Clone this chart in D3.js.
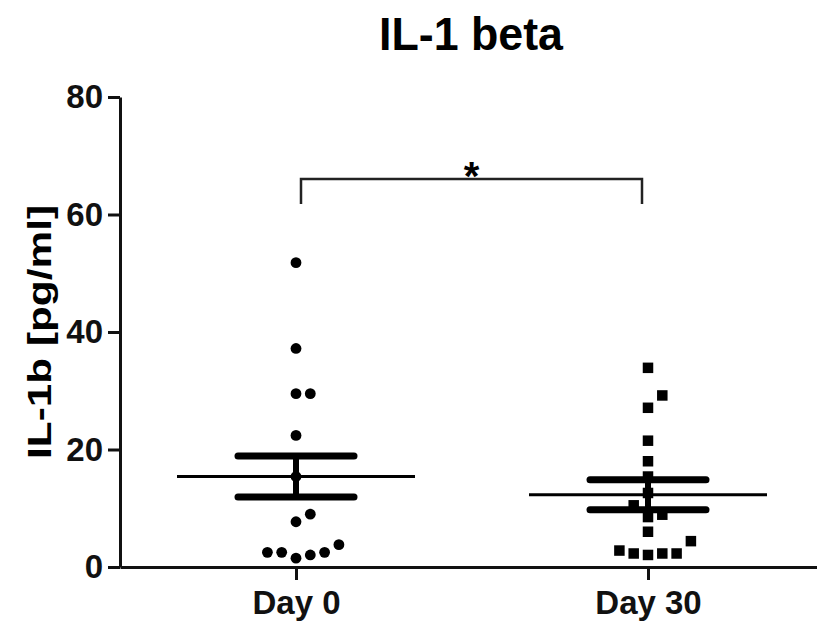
<!DOCTYPE html>
<html>
<head>
<meta charset="utf-8">
<script src="https://cdn.jsdelivr.net/npm/d3@7"></script>
<style>
  body { margin: 0; background: #fff; }
  text { font-family: "Liberation Sans", Arial, sans-serif; font-weight: bold; }
</style>
</head>
<body>
<svg class="chart"></svg>
<script>
// IL-1 beta scatter, day 0 vs day 30

let groups = ["Day 0", "Day 30"];
let day0 = [51.8, 37.2, 29.5, 29.5, 22.4, 15.4, 9.0, 7.7, 3.8, 2.5, 2.5, 2.5, 2.05, 1.5];
let day30 = [33.9, 29.2, 27.1, 21.5, 18.0, 15.4, 12.6, 10.5, 8.9, 8.5, 6.0, 4.4, 2.8, 2.3, 2.3, 2.3, 2.05];
let means = [15.4, 12.3];
let sems = [3.5, 2.55];
let yTicks = [0, 20, 40, 60, 80];

let w = 817;
let h = 622;

let svg = d3.select("svg.chart")
    .attr("width", w)
    .attr("height", h);

let left = 120;
let bottom = 567;
let top_y = 97;

let x = d3.scalePoint()
    .domain(groups)
    .range([left, 824])
    .padding(0.5);

let y = d3.scaleLinear()
    .domain([0, 80])
    .range([bottom, top_y]);

// title
svg.append("text")
    .attr("x", 471)
    .attr("y", 50)
    .attr("text-anchor", "middle")
    .attr("font-size", "47px")
    .attr("textLength", 184)
    .attr("lengthAdjust", "spacingAndGlyphs")
    .text("IL-1 beta");

// y axis
let yAxis = svg.append("g")
    .attr("transform", "translate(" + left + ",0)")
    .call(d3.axisLeft(y).tickValues(yTicks).tickSize(12).tickSizeOuter(0).tickPadding(5));

// x axis
let xAxis = svg.append("g")
    .attr("transform", "translate(0," + bottom + ")")
    .call(d3.axisBottom(x).tickSize(13).tickSizeOuter(0).tickPadding(6));

[yAxis, xAxis].forEach(g => {
    g.select(".domain").attr("stroke", "#111").attr("stroke-width", 3);
    g.selectAll(".tick line").attr("stroke", "#111").attr("stroke-width", 3);
    g.selectAll(".tick text")
        .attr("fill", "#111")
        .attr("font-size", "33px")
        .attr("font-family", "'Liberation Sans', Arial, sans-serif")
        .attr("font-weight", "bold");
});
xAxis.selectAll(".tick text").attr("dy", "0.85em");

// y axis label
svg.append("text")
    .attr("transform", "translate(51," + ((top_y + bottom) / 2) + ") rotate(-90)")
    .attr("text-anchor", "middle")
    .attr("font-size", "34px")
    .attr("textLength", 254)
    .attr("lengthAdjust", "spacingAndGlyphs")
    .text("IL-1b [pg/ml]");

// simple beeswarm: place each point in the nearest free column slot
function swarm(values, cx, step, minDist) {
    let placed = [];
    let sorted = values.slice().sort((a, b) => a - b);
    sorted.forEach(v => {
        let py = y(v);
        for (let k = 0; k < 20; k++) {
            let slot = k == 0 ? 0 : (k % 2 == 1 ? (k + 1) / 2 : -k / 2);
            let px = cx + slot * step;
            let hit = placed.some(p => Math.hypot(p.x - px, p.y - py) < minDist);
            if (!hit) {
                placed.push({x: px, y: py, v: v});
                break;
            }
        }
    });
    return placed;
}

let pts0 = swarm(day0, x("Day 0"), 14.3, 14.2);
let pts30 = swarm(day30, x("Day 30"), 14.3, 14.2);

svg.append("g").selectAll("circle")
    .data(pts0)
    .enter()
    .append("circle")
    .attr("cx", d => d.x)
    .attr("cy", d => d.y)
    .attr("r", 5.4)
    .attr("fill", "#000");

let sq = 10.5;
svg.append("g").selectAll("rect")
    .data(pts30)
    .enter()
    .append("rect")
    .attr("x", d => d.x - sq / 2)
    .attr("y", d => d.y - sq / 2)
    .attr("width", sq)
    .attr("height", sq)
    .attr("fill", "#000");

// mean line and SEM bars
let stats = svg.append("g").attr("stroke", "#000");
groups.forEach((g, i) => {
    let cx = x(g);
    stats.append("line")
        .attr("x1", cx - 119).attr("x2", cx + 119)
        .attr("y1", y(means[i])).attr("y2", y(means[i]))
        .attr("stroke-width", 3);
    stats.append("line")
        .attr("x1", cx).attr("x2", cx)
        .attr("y1", y(means[i] + sems[i])).attr("y2", y(means[i] - sems[i]))
        .attr("stroke-width", 6);
    [means[i] + sems[i], means[i] - sems[i]].forEach(v => {
        stats.append("line")
            .attr("x1", cx - 58).attr("x2", cx + 58)
            .attr("y1", y(v)).attr("y2", y(v))
            .attr("stroke-width", 7)
            .attr("stroke-linecap", "round");
    });
});

// significance bracket
let bx1 = x("Day 0") + 5;
let bx2 = x("Day 30") - 6;
let by = 179;
svg.append("path")
    .attr("d", "M" + bx1 + "," + (by + 25) + "V" + by + "H" + bx2 + "V" + (by + 25))
    .attr("fill", "none")
    .attr("stroke", "#222")
    .attr("stroke-width", 2.5);

svg.append("text")
    .attr("x", (bx1 + bx2) / 2)
    .attr("y", 190)
    .attr("text-anchor", "middle")
    .attr("font-size", "40px")
    .text("*");
</script>
</body>
</html>
